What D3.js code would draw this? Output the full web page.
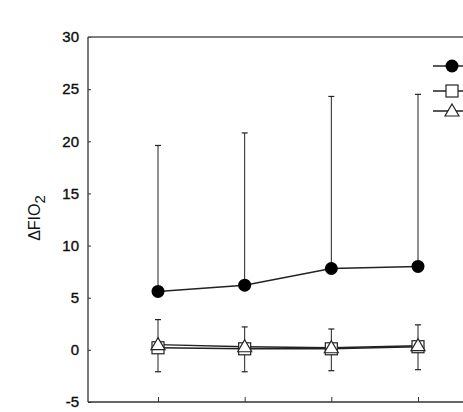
<!DOCTYPE html>
<html>
<head>
<meta charset="utf-8">
<script src="https://cdn.jsdelivr.net/npm/d3@7/dist/d3.min.js"></script>
<style>
  body { margin: 0; background: #fff; }
  svg text { font-family: "Liberation Sans", Arial, sans-serif; fill: #111; }
</style>
</head>
<body>
<div id="chart"></div>
<script>
// data
let timepoints = ["1", "2", "3", "4"];
let yTicks = [-5, 0, 5, 10, 15, 20, 25, 30];

let circleMean = [5.6, 6.2, 7.8, 8.0];
let circleUpper = [19.6, 20.8, 24.3, 24.5];

let squareMean = [0.2, 0.1, 0.1, 0.3];
let triangleMean = [0.5, 0.3, 0.2, 0.4];
let smallUpper = [2.9, 2.2, 2.0, 2.4];
let smallLower = [-2.1, -2.1, -2.0, -1.9];

let width = 463, height = 412;

let svg = d3.select("#chart").append("svg")
    .attr("width", width)
    .attr("height", height);

let x = d3.scalePoint()
    .domain(timepoints)
    .range([158, 418]);

let y = d3.scaleLinear()
    .domain([-5, 30])
    .range([402, 37]);

let left = 88;

// y axis
let yAxis = d3.axisLeft(y)
    .tickValues(yTicks)
    .tickSize(-3)
    .tickPadding(9)
    .tickFormat(d => String(d));

let yAxisGroup = svg.append("g")
    .attr("transform", `translate(${left}, 0)`)
    .call(yAxis);
yAxisGroup.select(".domain").remove();
yAxisGroup.selectAll("line").attr("stroke", "#333");
yAxisGroup.selectAll("text")
    .attr("font-size", 15)
    .attr("font-family", "Liberation Sans, Arial, sans-serif")
    .attr("fill", "#000")
    .attr("stroke", "#000")
    .attr("stroke-width", 0.35);

// frame lines
svg.append("line")
    .attr("x1", left).attr("x2", left)
    .attr("y1", y(30)).attr("y2", y(-5))
    .attr("stroke", "#333").attr("stroke-width", 1.3);
svg.append("line")
    .attr("x1", left).attr("x2", width)
    .attr("y1", y(30)).attr("y2", y(30))
    .attr("stroke", "#555").attr("stroke-width", 1.3);

// x axis (no labels)
let xAxis = d3.axisBottom(x)
    .tickSize(-5)
    .tickFormat("");
let xAxisGroup = svg.append("g")
    .attr("transform", `translate(0, ${y(-5)})`)
    .call(xAxis);
xAxisGroup.select(".domain").remove();
xAxisGroup.selectAll("line").attr("stroke", "#333");
svg.append("line")
    .attr("x1", left).attr("x2", width)
    .attr("y1", y(-5)).attr("y2", y(-5))
    .attr("stroke", "#333").attr("stroke-width", 1.3);

// y label
svg.append("text")
    .attr("transform", "translate(40, 218) rotate(-90)")
    .attr("text-anchor", "middle")
    .attr("font-size", 16)
    .attr("fill", "#000")
    .html('ΔFIO<tspan dy="5" font-size="15">2</tspan>');

let line = d3.line()
    .x((d, i) => x(timepoints[i]))
    .y(d => y(d));

// error bars for circles (upper only)
timepoints.forEach((t, i) => {
    svg.append("line")
        .attr("x1", x(t)).attr("x2", x(t))
        .attr("y1", y(circleMean[i])).attr("y2", y(circleUpper[i]))
        .attr("stroke", "#222").attr("stroke-width", 1);
    svg.append("line")
        .attr("x1", x(t) - 3).attr("x2", x(t) + 3)
        .attr("y1", y(circleUpper[i])).attr("y2", y(circleUpper[i]))
        .attr("stroke", "#222").attr("stroke-width", 1.2);
});

// error bars for square/triangle groups
timepoints.forEach((t, i) => {
    svg.append("line")
        .attr("x1", x(t)).attr("x2", x(t))
        .attr("y1", y(smallLower[i])).attr("y2", y(smallUpper[i]))
        .attr("stroke", "#222").attr("stroke-width", 1);
    [smallUpper[i], smallLower[i]].forEach(v => {
        svg.append("line")
            .attr("x1", x(t) - 3).attr("x2", x(t) + 3)
            .attr("y1", y(v)).attr("y2", y(v))
            .attr("stroke", "#222").attr("stroke-width", 1.2);
    });
});

// lines
[squareMean, triangleMean, circleMean].forEach(series => {
    svg.append("path")
        .datum(series)
        .attr("d", line)
        .attr("fill", "none")
        .attr("stroke", "#222")
        .attr("stroke-width", 1.4);
});

function drawSquare(g, cx, cy) {
    g.append("rect")
        .attr("x", cx - 6).attr("y", cy - 6)
        .attr("width", 12).attr("height", 12)
        .attr("fill", "#fff").attr("stroke", "#222").attr("stroke-width", 1.2);
}
function drawTriangle(g, cx, cy) {
    let pts = [[cx, cy - 7], [cx + 7, cy + 5], [cx - 7, cy + 5]];
    g.append("path")
        .attr("d", d3.line()(pts) + "Z")
        .attr("fill", "#fff").attr("stroke", "#222").attr("stroke-width", 1.2);
}
function drawCircle(g, cx, cy) {
    g.append("circle")
        .attr("cx", cx).attr("cy", cy).attr("r", 6.5)
        .attr("fill", "#000");
}

let markers = svg.append("g");
timepoints.forEach((t, i) => drawSquare(markers, x(t), y(squareMean[i])));
timepoints.forEach((t, i) => drawTriangle(markers, x(t), y(triangleMean[i])));
timepoints.forEach((t, i) => drawCircle(markers, x(t), y(circleMean[i])));

// legend (cut by the right edge)
let legendY = [66, 91, 111];
let legendDraw = [drawCircle, drawSquare, drawTriangle];
legendY.forEach((ly, i) => {
    svg.append("line")
        .attr("x1", 433).attr("x2", width + 10)
        .attr("y1", ly).attr("y2", ly)
        .attr("stroke", "#222").attr("stroke-width", 1.4);
    legendDraw[i](svg, 452, ly);
});
</script>
</body>
</html>
